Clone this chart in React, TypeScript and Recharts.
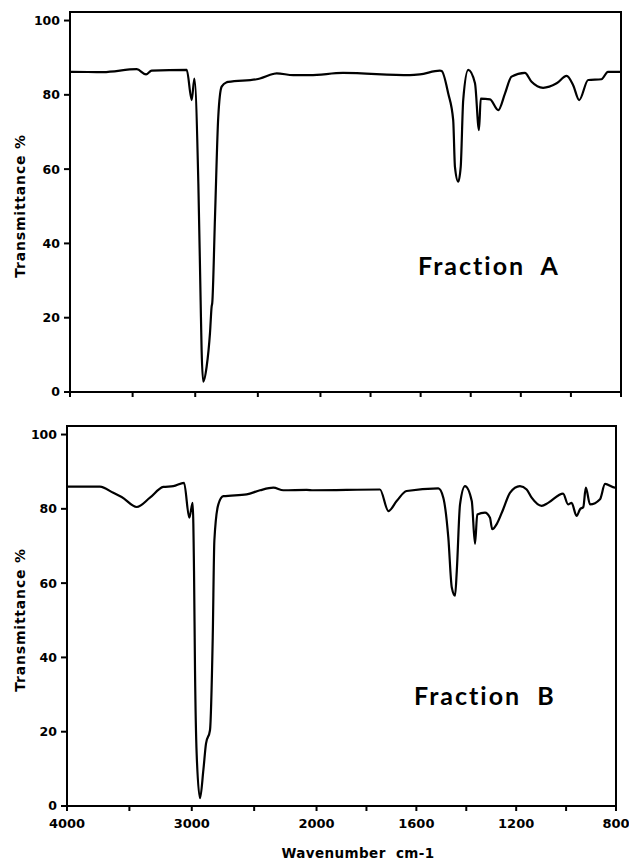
import { LineChart, Line, XAxis, YAxis, ReferenceArea } from 'recharts';

// IR spectra, wavenumber (cm-1) vs transmittance (%)
const wavenumbersA = [
  4000, 3978, 3736, 3467, 3393, 3348, 3068, 3028, 3007, 2975, 2957, 2949, 2936, 2909, 2882, 2869,
  2864, 2842, 2816, 2789, 2749, 2736, 2509, 2483, 2379, 2350, 2217, 2084, 1910, 1643, 1603, 1523,
  1516, 1490, 1470, 1463, 1450, 1440, 1430, 1410, 1383, 1367, 1360, 1323, 1290, 1263, 1237, 1184,
  1157, 1111, 1057, 1017, 991, 967, 931, 878, 852, 800,
];
const transmittanceA = [
  86.2, 86.2, 86.1, 86.9, 85.5, 86.5, 86.7, 78.6, 84.4, 56, 24.8, 11.3, 2.8, 6.8, 15.9, 23,
  24, 47.2, 74.1, 82.2, 83.4, 83.5, 84.2, 84.4, 85.6, 85.8, 85.3, 85.3, 85.9, 85.3, 85.5, 86.5,
  86.4, 80.4, 73.2, 60.6, 56.6, 60.6, 78.6, 86.7, 83.1, 70.5, 79, 78.8, 75.9, 80.4, 84.9, 85.9,
  83.5, 81.9, 83.1, 85.1, 82.6, 78.6, 84, 84.2, 86.2, 86.2,
];

const wavenumbersB = [
  4000, 3976, 3736, 3629, 3562, 3441, 3335, 3228, 3148, 3062, 3020, 2993, 2982, 2974, 2961, 2934,
  2907, 2886, 2854, 2832, 2819, 2787, 2747, 2560, 2453, 2346, 2266, 2079, 2026, 1746, 1712, 1679,
  1639, 1512, 1492, 1472, 1458, 1445, 1438, 1425, 1405, 1378, 1365, 1356, 1325, 1305, 1296, 1278,
  1252, 1225, 1185, 1158, 1138, 1098, 1072, 1012, 992, 978, 958, 944, 931, 921, 904, 864, 844, 804, 800,
];
const transmittanceB = [
  86, 86, 86, 84.3, 83.2, 80.5, 83, 85.9, 86.1, 87, 77.6, 81.6, 63.3, 36.5, 14.2, 2.1,
  9.7, 16.8, 20.4, 45.4, 71.4, 81.2, 83.4, 83.9, 85, 85.7, 85, 85.1, 85, 85.2, 79.4, 82.1,
  84.8, 85.5, 83, 72.3, 58.8, 56.6, 63.3, 81.2, 86.1, 82.1, 70.6, 78.5, 79, 77.6, 74.5, 75.9,
  79.9, 84.3, 86.1, 85.2, 83, 80.8, 81.6, 84.1, 81.2, 81.6, 78.1, 79.9, 80.5, 85.7, 81.2, 82.6, 86.7, 85.7, 85.7,
];

const xTicks = [4000, 3500, 3000, 2500, 2000, 1800, 1600, 1400, 1200, 1000, 800];
const xLabels = [4000, 3000, 2000, 1600, 1200, 800];
const yTicks = [0, 20, 40, 60, 80, 100];

// scale doubles below 2000 cm-1
const toAxis = (w: number) => (w >= 2000 ? 4000 - w : 2000 + 2 * (2000 - w));
const fromAxis = (u: number) => (u <= 2000 ? 4000 - u : 2000 - (u - 2000) / 2);

const dataA = wavenumbersA.map((w, i) => ({ u: toAxis(w), t: transmittanceA[i] }));
const dataB = wavenumbersB.map((w, i) => ({ u: toAxis(w), t: transmittanceB[i] }));

const tickFont = { fontFamily: 'DejaVu Sans', fontWeight: 700, fontSize: 12.5, fill: '#000' };
const axisStroke = { stroke: '#000', strokeWidth: 2 };
const Y_MAX = 102.3;

function Panel({ data, showLabels, width, height, margin, yWidth, xHeight }: any) {
  return (
    <LineChart width={width} height={height} data={data} margin={margin}>
      <XAxis
        dataKey="u"
        type="number"
        domain={[0, 4400]}
        ticks={xTicks.map(toAxis)}
        interval={0}
        height={xHeight}
        axisLine={axisStroke}
        tickLine={axisStroke}
        tickSize={5}
        tickMargin={8}
        tick={{ ...tickFont, fontSize: 13 }}
        tickFormatter={(u: number) => {
          const w = Math.round(fromAxis(u));
          return showLabels && xLabels.includes(w) ? String(w) : '';
        }}
      />
      <YAxis
        type="number"
        domain={[0, Y_MAX]}
        ticks={yTicks}
        width={yWidth}
        axisLine={axisStroke}
        tickLine={axisStroke}
        tickSize={6}
        tickMargin={4}
        tick={tickFont}
      />
      <ReferenceArea x1={0} x2={4400} y1={0} y2={Y_MAX} fill="none" stroke="#000" strokeWidth={2} />
      <Line
        dataKey="t"
        type="monotone"
        stroke="#000"
        strokeWidth={2.2}
        dot={false}
        isAnimationActive={false}
      />
    </LineChart>
  );
}

const yTitle: React.CSSProperties = {
  position: 'absolute',
  left: 20,
  transform: 'translate(-50%, -50%) rotate(-90deg)',
  fontFamily: 'DejaVu Sans',
  fontWeight: 700,
  fontSize: 14,
  letterSpacing: 0.8,
  whiteSpace: 'nowrap',
  color: '#000',
};

const fraction: React.CSSProperties = {
  position: 'absolute',
  fontFamily: 'Lato',
  fontWeight: 700,
  fontSize: 25,
  letterSpacing: 2,
  whiteSpace: 'pre',
  color: '#000',
};

export default function App() {
  return (
    <div style={{ position: 'absolute', left: 0, top: 0, width: 629, height: 867, background: '#fff' }}>
      <div style={{ position: 'absolute', left: 0, top: 0 }}>
        <Panel
          data={dataA}
          showLabels={false}
          width={629}
          height={410}
          margin={{ top: 12, right: 8, bottom: 0, left: 0 }}
          yWidth={70}
          xHeight={18}
        />
      </div>
      <div style={{ position: 'absolute', left: 0, top: 410 }}>
        <Panel
          data={dataB}
          showLabels
          width={629}
          height={457}
          margin={{ top: 16, right: 13, bottom: 0, left: 0 }}
          yWidth={67}
          xHeight={61}
        />
      </div>
      <div style={{ ...yTitle, top: 206 }}>Transmittance %</div>
      <div style={{ ...yTitle, top: 620 }}>Transmittance %</div>
      <div style={{ ...fraction, left: 418, top: 250 }}>{'Fraction  A'}</div>
      <div style={{ ...fraction, left: 414, top: 680 }}>{'Fraction  B'}</div>
      <div
        style={{
          position: 'absolute',
          left: 358,
          top: 853,
          transform: 'translate(-50%, -50%)',
          fontFamily: 'DejaVu Sans',
          fontWeight: 700,
          fontSize: 13.5,
          letterSpacing: 0.4,
          whiteSpace: 'pre',
          color: '#000',
        }}
      >
        {'Wavenumber  cm-1'}
      </div>
    </div>
  );
}
